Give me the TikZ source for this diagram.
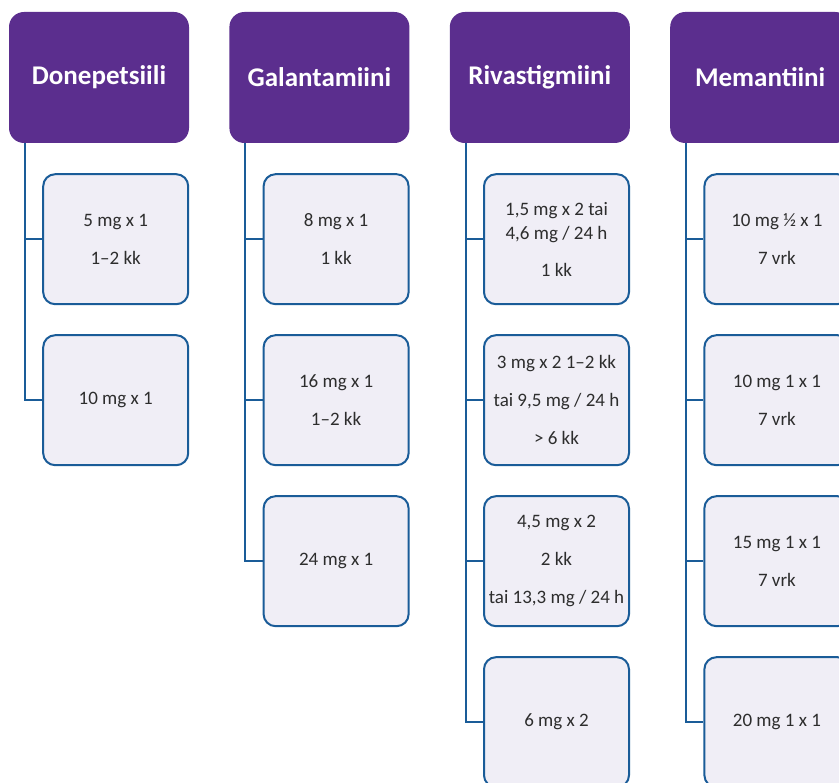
\documentclass[tikz,border=0pt]{standalone}
\usepackage{fontspec}
\setmainfont{Carlito}
\usepackage{xcolor}
\usepackage{tikz}
\usetikzlibrary{positioning}
\definecolor{hdrpurple}{RGB}{91,46,142}
\definecolor{doseblue}{RGB}{26,92,152}
\definecolor{dosefill}{RGB}{240,238,246}
\definecolor{dosetext}{RGB}{45,45,45}

\begin{document}
\begin{tikzpicture}[x=1pt, y=1pt, node distance=29pt,
    hdr/.style={rectangle, rounded corners=15pt, fill=hdrpurple, minimum width=180pt, minimum height=131pt, text=white, font=\fontsize{27}{32}\selectfont\bfseries},
    dose/.style={draw=doseblue, line width=2pt, rectangle, rounded corners=12pt, fill=dosefill, minimum width=145pt, minimum height=130pt, align=center, text=dosetext, font=\fontsize{19}{24}\selectfont},
    spine/.style={draw=doseblue, line width=2pt}]
    \useasboundingbox (0,0) rectangle (839,-783);
    \clip (0,0) rectangle (839,-783);

    % headers
    \node[hdr] (don) at (99,-77.5) {Donepetsiili};
    \node[hdr, right=40pt of don] (gal) {Galantamiini};
    \node[hdr, right=40pt of gal] (riv) {Rivastigmiini};
    \node[hdr, right=40pt of riv] (mem) {Memantiini};

    % doses
    \node[dose, below=30pt of don.south east, anchor=north east] (don1) {5 mg x 1\\[14pt]1--2 kk};
    \node[dose, below=of don1] (don2) {10 mg x 1};

    \node[dose, below=30pt of gal.south east, anchor=north east] (gal1) {8 mg x 1\\[14pt]1 kk};
    \node[dose, below=of gal1] (gal2) {16 mg x 1\\[14pt]1--2 kk};
    \node[dose, below=of gal2] (gal3) {24 mg x 1};

    \node[dose, below=30pt of riv.south east, anchor=north east] (riv1) {1,5 mg x 2 tai\\4,6 mg / 24 h\\[13pt]1 kk};
    \node[dose, below=of riv1] (riv2) {3 mg x 2 1--2 kk\\[14pt]tai 9,5 mg / 24 h\\[14pt]> 6 kk};
    \node[dose, below=of riv2] (riv3) {4,5 mg x 2\\[14pt]2 kk\\[14pt]tai 13,3 mg / 24 h};
    \node[dose, below=of riv3] (riv4) {6 mg x 2};

    \node[dose, below=30pt of mem.south east, anchor=north east] (mem1) {10 mg ½ x 1\\[14pt]7 vrk};
    \node[dose, below=of mem1] (mem2) {10 mg 1 x 1\\[14pt]7 vrk};
    \node[dose, below=of mem2] (mem3) {15 mg 1 x 1\\[14pt]7 vrk};
    \node[dose, below=of mem3] (mem4) {20 mg 1 x 1};

    % spines
    \foreach \col in {don, gal, riv, mem}
        \coordinate (\col-top) at ([xshift=16pt]\col.south west);
    \draw[spine] (don-top) |- (don2.west);
    \draw[spine] (gal-top) |- (gal3.west);
    \draw[spine] (riv-top) |- (riv4.west);
    \draw[spine] (mem-top) |- (mem4.west);
    \foreach \col/\row in {don/1, gal/1, gal/2, riv/1, riv/2, riv/3, mem/1, mem/2, mem/3}
        \draw[spine] (\col\row.west) -- (\col\row.west -| \col-top);
\end{tikzpicture}
\end{document}
